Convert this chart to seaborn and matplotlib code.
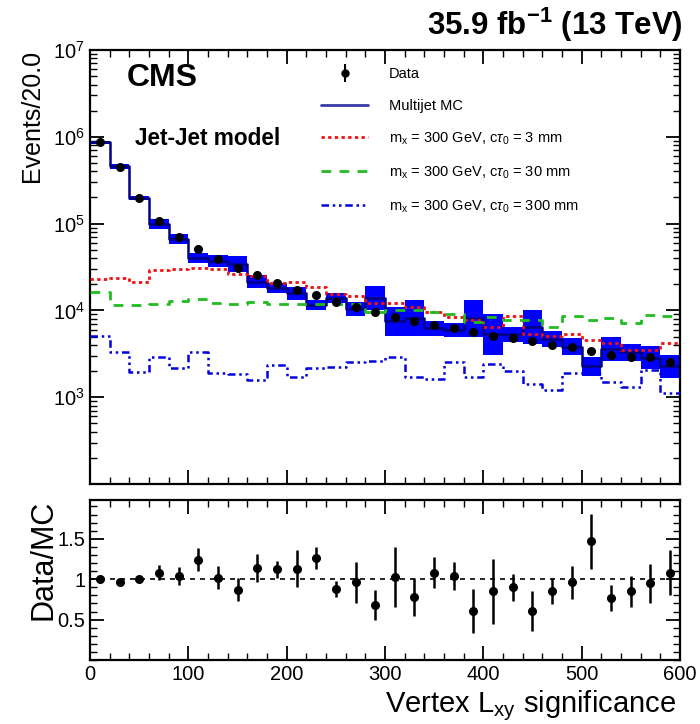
import numpy as np
import matplotlib
matplotlib.use('Agg')
import matplotlib.pyplot as plt
from matplotlib.lines import Line2D
from matplotlib.ticker import MultipleLocator, LogLocator, NullFormatter
import seaborn as sns

# ── values (bins of 20 in Lxy significance) ──
bin_width = 20
bin_centers = [10, 30, 50, 70, 90, 110, 130, 150, 170, 190,
               210, 230, 250, 270, 290, 310, 330, 350, 370, 390,
               410, 430, 450, 470, 490, 510, 530, 550, 570, 590]

data_events = [8.6e5, 4.5e5, 1.95e5, 1.07e5, 6.95e4, 5.1e4, 3.9e4, 3.05e4, 2.56e4, 2.05e4,
               1.72e4, 1.5e4, 1.26e4, 1.1e4, 9.7e3, 8.5e3, 7.6e3, 6.8e3, 6.2e3, 5.7e3,
               5.1e3, 4.85e3, 4.4e3, 4.0e3, 3.76e3, 3.4e3, 3.06e3, 2.9e3, 2.9e3, 2.57e3]

mc_events = [8.65e5, 4.58e5, 1.98e5, 9.8e4, 6.6e4, 4.0e4, 3.7e4, 3.45e4, 2.14e4, 1.8e4,
             1.57e4, 1.15e4, 1.4e4, 1.05e4, 1.38e4, 7.5e3, 8.2e3, 6.2e3, 5.9e3, 8.2e3,
             5.3e3, 5.3e3, 6.5e3, 4.7e3, 3.8e3, 2.27e3, 3.6e3, 3.3e3, 2.85e3, 2.27e3]

# lower / upper edge of the MC uncertainty band
mc_band_lo = [8.3e5, 4.3e5, 1.87e5, 8.6e4, 5.8e4, 3.5e4, 3.2e4, 2.8e4, 1.8e4, 1.58e4,
              1.32e4, 1.01e4, 1.23e4, 8.7e3, 1.0e4, 5.1e3, 5.1e3, 5.1e3, 4.9e3, 5.0e3,
              3.1e3, 4.35e3, 4.1e3, 3.8e3, 3.05e3, 1.76e3, 2.6e3, 2.62e3, 2.1e3, 1.65e3]
mc_band_hi = [9.0e5, 4.9e5, 2.1e5, 1.12e5, 7.5e4, 4.6e4, 4.3e4, 4.25e4, 2.55e4, 2.05e4,
              1.86e4, 1.32e4, 1.6e4, 1.26e4, 1.92e4, 1.1e4, 1.32e4, 7.5e3, 7.1e3, 1.32e4,
              9.1e3, 6.45e3, 1.02e4, 5.8e3, 4.75e3, 2.93e3, 4.95e3, 4.15e3, 3.85e3, 3.1e3]

signal_3mm = [2.28e4, 2.38e4, 2.14e4, 2.95e4, 3.0e4, 3.05e4, 3.0e4, 2.63e4, 2.5e4, 2.05e4,
              2.14e4, 1.87e4, 1.55e4, 1.47e4, 1.21e4, 1.23e4, 1.1e4, 9.7e3, 8.5e3, 7.8e3,
              6.4e3, 8.6e3, 5.3e3, 5.1e3, 5.4e3, 4.6e3, 4.2e3, 3.5e3, 3.5e3, 4.2e3]

signal_30mm = [1.62e4, 1.15e4, 1.15e4, 1.17e4, 1.29e4, 1.35e4, 1.23e4, 1.17e4, 1.25e4, 1.2e4,
               1.2e4, 1.2e4, 1.2e4, 1.2e4, 9.7e3, 1.0e4, 1.0e4, 9.7e3, 9.1e3, 7.4e3,
               8.3e3, 7.8e3, 7.8e3, 6.4e3, 8.6e3, 7.8e3, 8.1e3, 7.1e3, 8.9e3, 8.6e3]

signal_300mm = [5.1e3, 3.3e3, 1.97e3, 2.93e3, 2.15e3, 3.3e3, 1.88e3, 1.85e3, 1.58e3, 2.35e3,
                1.73e3, 2.15e3, 2.25e3, 2.57e3, 2.6e3, 2.93e3, 1.73e3, 1.61e3, 2.57e3, 1.73e3,
                2.4e3, 2.0e3, 1.42e3, 1.21e3, 1.88e3, 1.88e3, 1.51e3, 1.32e3, 2.05e3, 1.11e3]

ratio = [1.0, 0.96, 1.0, 1.08, 1.04, 1.24, 1.02, 0.87, 1.14, 1.12,
         1.13, 1.26, 0.88, 0.96, 0.68, 1.03, 0.78, 1.08, 1.04, 0.61,
         0.85, 0.9, 0.61, 0.85, 0.96, 1.47, 0.77, 0.85, 0.95, 1.08]
ratio_err = [0.02, 0.02, 0.03, 0.09, 0.11, 0.14, 0.14, 0.14, 0.17, 0.1,
             0.23, 0.14, 0.1, 0.25, 0.19, 0.37, 0.23, 0.19, 0.17, 0.27,
             0.4, 0.17, 0.25, 0.16, 0.2, 0.34, 0.16, 0.19, 0.24, 0.28]

signal_labels = [r'm$_{\rm x}$ = 300 GeV, c$\tau_{\rm 0}$ = 3 mm',
                 r'm$_{\rm x}$ = 300 GeV, c$\tau_{\rm 0}$ = 30 mm',
                 r'm$_{\rm x}$ = 300 GeV, c$\tau_{\rm 0}$ = 300 mm']

# ── style ──
sns.set_style('ticks')
plt.rcParams['font.family'] = ['Liberation Sans', 'DejaVu Sans']
plt.rcParams['mathtext.fontset'] = 'custom'
plt.rcParams['mathtext.rm'] = 'Liberation Sans'
plt.rcParams['mathtext.it'] = 'Liberation Sans:italic'
plt.rcParams['mathtext.bf'] = 'Liberation Sans:bold'
for key in ['text.color', 'axes.labelcolor', 'xtick.color', 'ytick.color', 'axes.edgecolor']:
    plt.rcParams[key] = 'black'

# seaborn compares bins to "auto", so hand it a plain list
edges = list(range(0, 600 + bin_width, bin_width))

fig = plt.figure(figsize=(7, 7.24), dpi=100)
ax_top = fig.add_axes([0.1286, 0.3315, 0.8428, 0.5995])
ax_bot = fig.add_axes([0.1286, 0.0884, 0.8428, 0.2210])

# MC uncertainty band
lo = np.array(mc_band_lo)
hi = np.array(mc_band_hi)
ax_top.bar(bin_centers, hi - lo, bottom=lo, width=bin_width, color='#0000ff',
           linewidth=0, zorder=1)

# MC central value + signal curves as step histograms
sns.histplot(x=bin_centers, weights=mc_events, bins=edges, element='step', fill=False,
             color='#000080', linewidth=1.8, ax=ax_top, zorder=2)
sns.histplot(x=bin_centers, weights=signal_3mm, bins=edges, element='step', fill=False,
             color='#ee1111', linewidth=2.0, linestyle=(0, (1.2, 1.2)), ax=ax_top, zorder=3)
sns.histplot(x=bin_centers, weights=signal_30mm, bins=edges, element='step', fill=False,
             color='#22bb22', linewidth=2.0, linestyle=(0, (3.5, 3)), ax=ax_top, zorder=3)
sns.histplot(x=bin_centers, weights=signal_300mm, bins=edges, element='step', fill=False,
             color='#0000dd', linewidth=1.8, linestyle=(0, (3, 1.5, 1, 1.5, 1, 1.5)),
             ax=ax_top, zorder=3)

# data points
ax_top.plot(bin_centers, data_events, 'o', color='black', ms=5.5, zorder=5)

ax_top.set_yscale('log')
ax_top.set_xlim(0, 600)
ax_top.set_ylim(1e2, 1e7)
ax_top.set_yticks([1e3, 1e4, 1e5, 1e6, 1e7])
ax_top.yaxis.set_minor_locator(LogLocator(base=10, subs=np.arange(2, 10)))
ax_top.yaxis.set_minor_formatter(NullFormatter())
ax_top.xaxis.set_major_locator(MultipleLocator(100))
ax_top.xaxis.set_minor_locator(MultipleLocator(20))
ax_top.tick_params(labelbottom=False)
ax_top.set_xlabel('')
ax_top.set_ylabel('Events/20.0', fontsize=18, loc='top')
ax_top.yaxis.set_label_coords(-0.078, 1.0)

# legend
data_handle = (Line2D([], [], marker='o', color='black', ls='none', ms=5),
               Line2D([], [], marker='|', color='black', ls='none', ms=13, mew=1.5))
handles = [data_handle,
           Line2D([], [], color='#3a3aa8', lw=2),
           Line2D([], [], color='#ee1111', lw=2, ls=(0, (1.2, 1.2))),
           Line2D([], [], color='#22bb22', lw=2, ls=(0, (3.5, 3))),
           Line2D([], [], color='#0000dd', lw=1.8, ls=(0, (3, 1.5, 1, 1.5, 1, 1.5)))]
labels = ['Data', 'Multijet MC'] + signal_labels
ax_top.legend(handles, labels, loc='upper left', bbox_to_anchor=(0.37, 0.99),
              frameon=False, fontsize=10.5, handlelength=3.2, handletextpad=1.4,
              labelspacing=1.2)

ax_top.text(0.063, 0.935, 'CMS', transform=ax_top.transAxes, fontsize=23,
            fontweight='bold', ha='left', va='center')
ax_top.text(0.076, 0.797, 'Jet-Jet model', transform=ax_top.transAxes, fontsize=16.3,
            fontweight='bold', ha='left', va='center')
ax_top.text(1.005, 1.014, r'35.9 fb$^{\mathbf{-1}}$ (13 TeV)', transform=ax_top.transAxes,
            fontsize=22.5, fontweight='bold', ha='right', va='bottom')

# ── ratio panel ──
ax_bot.axhline(1, color='black', lw=1.2, ls=(0, (3, 3)), zorder=1)
ax_bot.errorbar(bin_centers, ratio, yerr=ratio_err, fmt='o', color='black', ms=5.5,
                elinewidth=1.8, capsize=0, zorder=3)
ax_bot.set_xlim(0, 600)
ax_bot.set_ylim(0, 1.98)
ax_bot.set_yticks([0.5, 1, 1.5])
ax_bot.set_yticklabels(['0.5', '1', '1.5'])
ax_bot.yaxis.set_minor_locator(MultipleLocator(0.1))
ax_bot.xaxis.set_major_locator(MultipleLocator(100))
ax_bot.xaxis.set_minor_locator(MultipleLocator(20))
ax_bot.set_ylabel('Data/MC', fontsize=22, loc='top')
ax_bot.yaxis.set_label_coords(-0.054, 1.0)
ax_bot.set_xlabel(r'Vertex L$_{\rm xy}$ significance', fontsize=21, loc='right')
ax_bot.xaxis.set_label_coords(0.993, -0.175)

for ax in (ax_top, ax_bot):
    for spine in ax.spines.values():
        spine.set_linewidth(1.6)
        spine.set_visible(True)
    ax.tick_params(which='both', direction='in', top=True, right=True, labelsize=14.5)
    ax.tick_params(which='major', length=10, width=1.3)
    ax.tick_params(which='minor', length=5, width=1.0)

fig.savefig('out.png', dpi=100)
